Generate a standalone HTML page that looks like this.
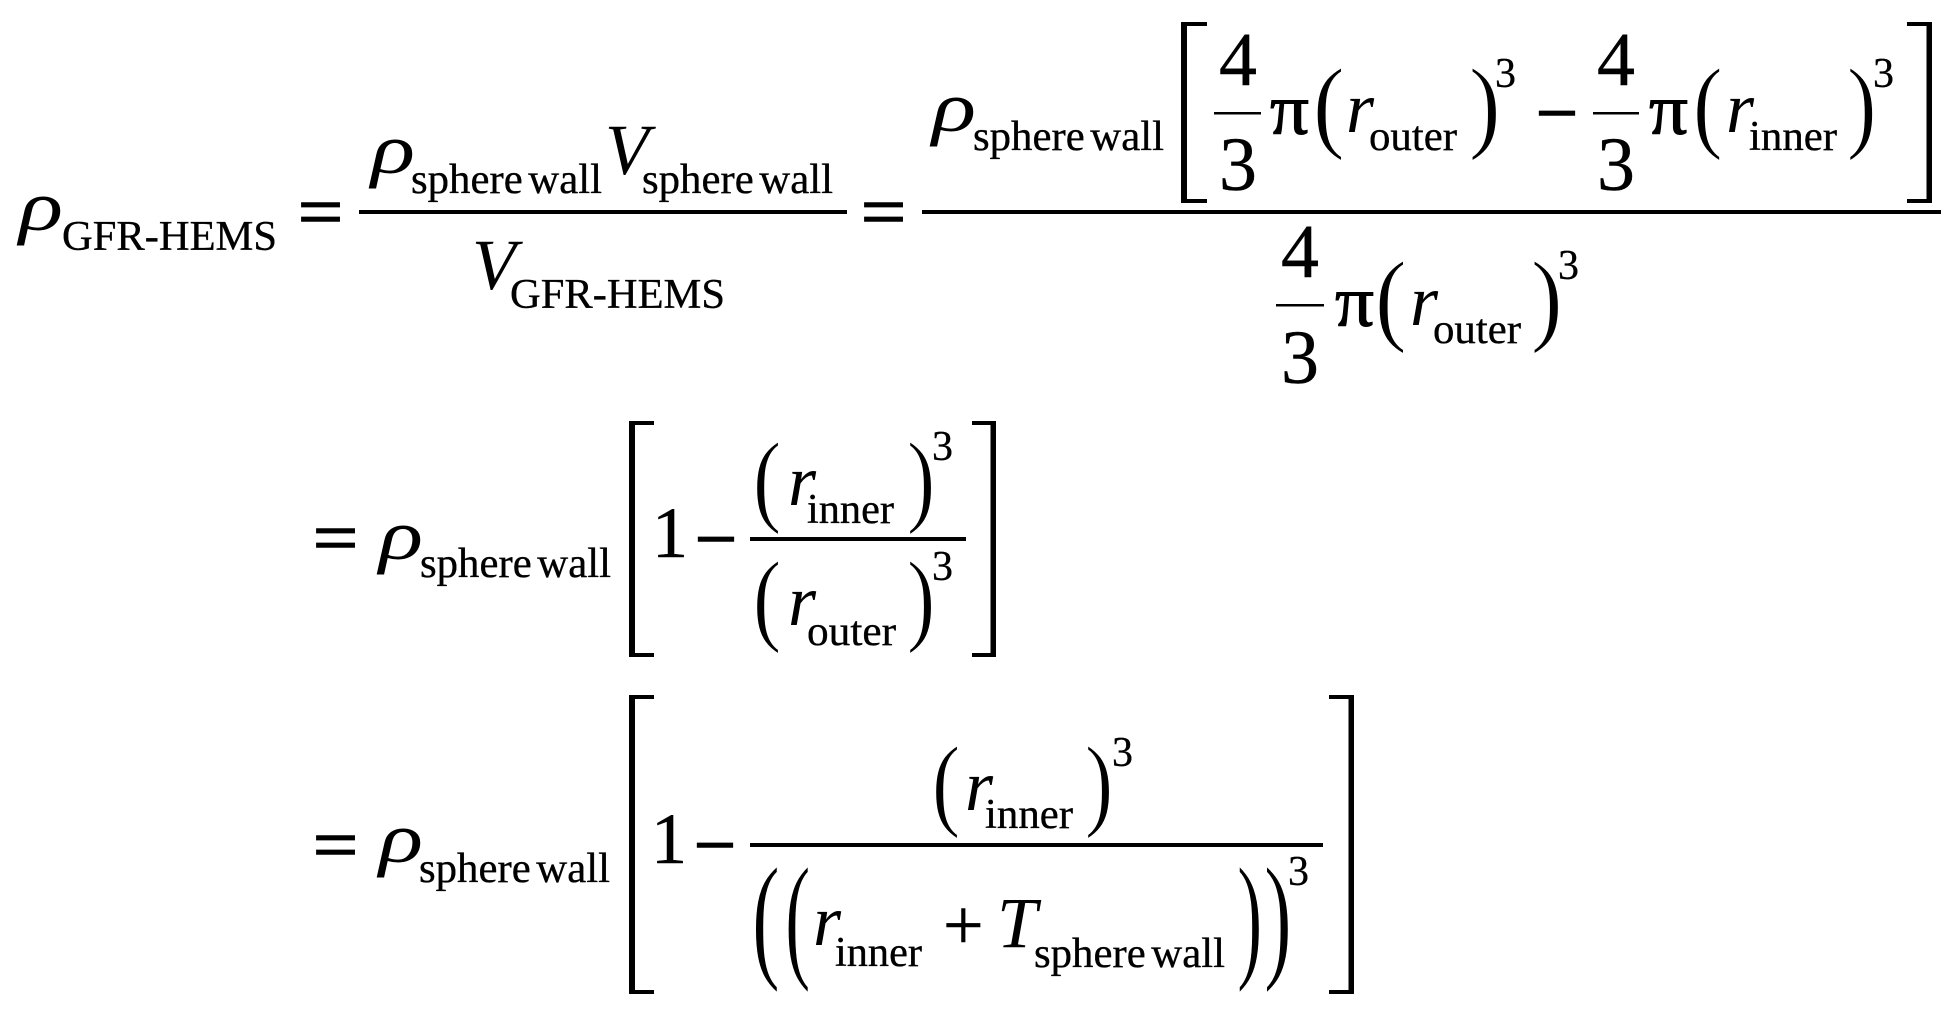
<!DOCTYPE html>
<html>
<head>
<meta charset="utf-8">
<style>
html,body{margin:0;padding:0;background:#fff;width:1958px;height:1016px;overflow:hidden}
svg{display:block}
text{font-family:"Liberation Serif",serif;fill:#000}
.m{font-size:72px;stroke:#000;stroke-width:.5px}
.eq{font-size:72px;stroke:#000;stroke-width:1.6px}
.pi{font-size:72px;stroke:#000;stroke-width:1px}
.i{font-size:72px;font-style:italic}
.d{font-size:76px;stroke:#000;stroke-width:.4px}
.s{font-size:42px;stroke:#000;stroke-width:.35px}
.w{word-spacing:-5px}
.p{font-size:103px;stroke:#fff;stroke-width:1.1px}
</style>
</head>
<body>
<svg width="1958" height="1016" viewBox="0 0 1958 1016" xmlns="http://www.w3.org/2000/svg">
<rect width="1958" height="1016" fill="#fff"/>

<!-- Row 1 -->
<text class="i" x="19" y="230" textLength="44" lengthAdjust="spacingAndGlyphs">ρ</text>
<text class="s" x="62" y="250" textLength="215" lengthAdjust="spacingAndGlyphs">GFR-HEMS</text>
<text class="eq" x="298" y="236" textLength="45" lengthAdjust="spacingAndGlyphs">=</text>
<rect x="359" y="210" width="488" height="4"/>
<text class="i" x="371" y="173" textLength="44" lengthAdjust="spacingAndGlyphs">ρ</text>
<text class="s w" x="411" y="193" textLength="191" lengthAdjust="spacingAndGlyphs">sphere wall</text>
<text class="i" x="605" y="174">V</text>
<text class="s w" x="642" y="193" textLength="191" lengthAdjust="spacingAndGlyphs">sphere wall</text>
<text class="i" x="472" y="289">V</text>
<text class="s" x="510" y="308" textLength="215" lengthAdjust="spacingAndGlyphs">GFR-HEMS</text>
<text class="eq" x="861" y="236" textLength="45" lengthAdjust="spacingAndGlyphs">=</text>
<rect x="922" y="210" width="1019" height="4"/>

<text class="i" x="932" y="131" textLength="44" lengthAdjust="spacingAndGlyphs">ρ</text>
<text class="s w" x="973" y="150" textLength="191" lengthAdjust="spacingAndGlyphs">sphere wall</text>
<path d="M1181 22H1207V26H1187V199H1207V203H1181Z"/>
<path d="M1932 22H1907V26H1926.500V199H1907V203H1932Z"/>

<text class="d" x="1238" y="85" text-anchor="middle">4</text>
<rect x="1214" y="112" width="47" height="2.500"/>
<text class="d" x="1238" y="190" text-anchor="middle">3</text>
<text class="pi" x="1270" y="134" textLength="39" lengthAdjust="spacingAndGlyphs">π</text>
<text class="p" transform="translate(1313,139) scale(.92,1)" x="0" y="0">(</text>
<text class="i" x="1346" y="132">r</text>
<text class="s" x="1369" y="150" textLength="88" lengthAdjust="spacingAndGlyphs">outer</text>
<text class="p" transform="translate(1469,139) scale(.92,1)" x="0" y="0">)</text>
<text class="s" x="1495" y="87">3</text>
<text class="eq" x="1536" y="137" textLength="42" lengthAdjust="spacingAndGlyphs">−</text>
<text class="d" x="1616" y="85" text-anchor="middle">4</text>
<rect x="1593" y="112" width="46" height="2.500"/>
<text class="d" x="1616" y="190" text-anchor="middle">3</text>
<text class="pi" x="1649" y="134" textLength="39" lengthAdjust="spacingAndGlyphs">π</text>
<text class="p" transform="translate(1693,139) scale(.86,1)" x="0" y="0">(</text>
<text class="i" x="1726" y="132">r</text>
<text class="s" x="1749" y="150" textLength="88" lengthAdjust="spacingAndGlyphs">inner</text>
<text class="p" transform="translate(1847,139) scale(.86,1)" x="0" y="0">)</text>
<text class="s" x="1873" y="87">3</text>

<text class="d" x="1300" y="277" text-anchor="middle">4</text>
<rect x="1276" y="304" width="48" height="2.500"/>
<text class="d" x="1300" y="383" text-anchor="middle">3</text>
<text class="pi" x="1335" y="326" textLength="39" lengthAdjust="spacingAndGlyphs">π</text>
<text class="p" transform="translate(1375,332) scale(.92,1)" x="0" y="0">(</text>
<text class="i" x="1410" y="325">r</text>
<text class="s" x="1433" y="343" textLength="88" lengthAdjust="spacingAndGlyphs">outer</text>
<text class="p" transform="translate(1531,332) scale(.92,1)" x="0" y="0">)</text>
<text class="s" x="1558" y="279">3</text>

<!-- Row 2 -->
<text class="eq" x="313" y="562" textLength="45" lengthAdjust="spacingAndGlyphs">=</text>
<text class="i" x="379" y="559" textLength="44" lengthAdjust="spacingAndGlyphs">ρ</text>
<text class="s w" x="420" y="577" textLength="191" lengthAdjust="spacingAndGlyphs">sphere wall</text>
<path d="M629 421H654V425H635V653H654V657H629Z"/>
<path d="M996 421H972V425H990.500V653H972V657H996Z"/>
<text class="m" x="652" y="557">1</text>
<text class="eq" x="695" y="563" textLength="42" lengthAdjust="spacingAndGlyphs">−</text>
<rect x="750" y="537" width="216" height="4"/>

<text class="p" transform="translate(753,513) scale(.82,1)" x="0" y="0">(</text>
<text class="i" x="788" y="505">r</text>
<text class="s" x="807" y="523" textLength="87" lengthAdjust="spacingAndGlyphs">inner</text>
<text class="p" transform="translate(907,513) scale(.82,1)" x="0" y="0">)</text>
<text class="s" x="932" y="460">3</text>

<text class="p" transform="translate(753,632) scale(.82,1)" x="0" y="0">(</text>
<text class="i" x="788" y="625">r</text>
<text class="s" x="807" y="645" textLength="89" lengthAdjust="spacingAndGlyphs">outer</text>
<text class="p" transform="translate(907,632) scale(.82,1)" x="0" y="0">)</text>
<text class="s" x="932" y="580">3</text>

<!-- Row 3 -->
<text class="eq" x="313" y="869" textLength="45" lengthAdjust="spacingAndGlyphs">=</text>
<text class="i" x="379" y="862" textLength="44" lengthAdjust="spacingAndGlyphs">ρ</text>
<text class="s w" x="419" y="882" textLength="191" lengthAdjust="spacingAndGlyphs">sphere wall</text>
<path d="M629 695H654V699H635V990H654V994H629Z"/>
<path d="M1354 695H1329V699H1348.500V990H1329V994H1354Z"/>
<text class="m" x="651" y="863">1</text>
<text class="eq" x="694" y="869" textLength="42" lengthAdjust="spacingAndGlyphs">−</text>
<rect x="750" y="843" width="573" height="4"/>

<text class="p" transform="translate(932,817) scale(.82,1)" x="0" y="0">(</text>
<text class="i" x="965" y="810">r</text>
<text class="s" x="985" y="828" textLength="88" lengthAdjust="spacingAndGlyphs">inner</text>
<text class="p" transform="translate(1085,817) scale(.82,1)" x="0" y="0">)</text>
<text class="s" x="1112" y="766">3</text>

<text class="p" style="font-size:139px" transform="translate(752,963) scale(.6,1)" x="0" y="0">(</text>
<text class="p" style="font-size:139px" transform="translate(785,963) scale(.55,1)" x="0" y="0">(</text>
<text class="i" x="813" y="945">r</text>
<text class="s" x="835" y="966" textLength="87" lengthAdjust="spacingAndGlyphs">inner</text>
<text class="m" x="943" y="949">+</text>
<text class="i" x="997" y="947">T</text>
<text class="s w" x="1034" y="967" textLength="191" lengthAdjust="spacingAndGlyphs">sphere wall</text>
<text class="p" style="font-size:139px" transform="translate(1237,963) scale(.55,1)" x="0" y="0">)</text>
<text class="p" style="font-size:139px" transform="translate(1264,963) scale(.6,1)" x="0" y="0">)</text>
<text class="s" x="1288" y="885">3</text>
</svg>
</body>
</html>
